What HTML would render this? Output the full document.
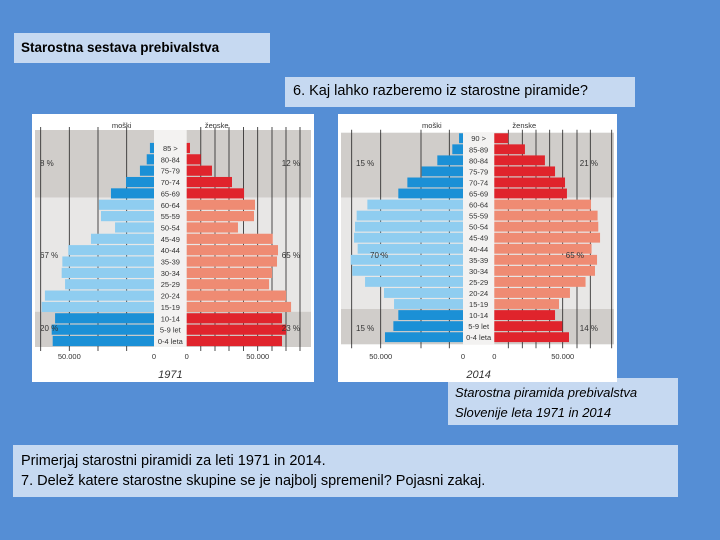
<!DOCTYPE html>
<html><head><meta charset="utf-8"><style>
body{margin:0;width:720px;height:540px;background:#558ed5;position:relative;overflow:hidden;font-family:"Liberation Sans",sans-serif}
.box{position:absolute;background:#c6d9f1;color:#000;font-size:14px;box-sizing:border-box}
svg{position:absolute;left:0;top:0}
</style></head><body>
<div class="box" style="left:14px;top:33px;width:256px;height:30px;padding:7px 7px;font-weight:bold;font-size:13.5px">Starostna sestava prebivalstva</div>
<div class="box" style="left:285px;top:77px;width:350px;height:30px;padding:6px 8px;font-size:14.5px">6. Kaj lahko razberemo iz starostne piramide?</div>
<div class="box" style="left:448px;top:378px;width:230px;height:47px;padding:5px 7px;font-style:italic;font-size:13px;line-height:20px">Starostna piramida prebivalstva<br>Slovenije leta 1971 in 2014</div>
<div class="box" style="left:13px;top:445px;width:665px;height:52px;padding:6px 8px;font-size:14.5px;line-height:20px">Primerjaj starostni piramidi za leti 1971 in 2014.<br>7. Delež katere starostne skupine se je najbolj spremenil? Pojasni zakaj.</div>
<svg id="chart" width="720" height="540"></svg>
<script>
const ages1971=["85 >","80-84","75-79","70-74","65-69","60-64","55-59","50-54","45-49","40-44","35-39","30-34","25-29","20-24","15-19","10-14","5-9 let","0-4 leta"];
const men1971=[2.4,4.3,8.3,16.5,25.4,32.5,31.3,23,37.2,50.6,54.1,54.5,52.5,64.4,66.3,58.4,60.4,59.8];
const women1971=[2.3,9.9,17.8,31.9,40.4,48.1,47.4,36.1,60.6,64.3,63.6,60.1,58,70,73.5,67.1,70,67.1];
const ages2014=["90 >","85-89","80-84","75-79","70-74","65-69","60-64","55-59","50-54","45-49","40-44","35-39","30-34","25-29","20-24","15-19","10-14","5-9 let","0-4 leta"];
const men2014=[2.4,6.5,15.6,25.1,33.8,39.3,58.1,64.6,65.6,66.2,64,68.2,67.3,59.5,48,41.9,39.3,42.3,47.4];
const women2014=[10.2,22.4,37,44.4,51.7,53.1,70.7,75.5,76,77.3,71.1,75.1,73.6,66.7,55.3,47.3,44.4,49.7,54.6];
const pct1971=["8 %","12 %","67 %","65 %","20 %","23 %"];
const pct2014=["15 %","21 %","70 %","65 %","15 %","14 %"];
const svg=document.getElementById('chart');const NS='http://www.w3.org/2000/svg';
function mk(t,a,p){const e=document.createElementNS(NS,t);for(const k in a)e.setAttribute(k,a[k]);(p||svg).appendChild(e);return e;}
function draw(c){
 const g=mk('g',{});
 
 
 mk('rect',{x:c.px,y:114,width:c.pw,height:268,fill:'#fff'},g);
 const n=c.ages.length;const rh=(c.y1-c.y0)/n;
 const yRow=i=>c.y0+i*rh;
 const bands=[[c.top,c.b1,'#d0cdca'],[c.b1,c.b2,'#e8e7e6'],[c.b2,c.bot,'#d0cdca']];
 bands.forEach(b=>mk('rect',{x:c.px+3,y:b[0],width:c.pw-6,height:b[1]-b[0],fill:b[2]},g));
 mk('rect',{x:c.lz,y:c.top,width:c.rz-c.lz,height:c.bot-c.top,fill:'#f3f2f1'},g);
 c.lgrid.concat(c.rgrid).forEach(x=>mk('line',{x1:x,x2:x,y1:c.top-3,y2:c.bot+4,stroke:'#222','stroke-width':0.8},g));
 const xl=v=>c.lz-v*c.ls, xr=v=>c.rz+v*c.rs;
 const dark=i=>i<c.oldN||i>=n-3;
 c.men.forEach((v,i)=>{const r=mk('rect',{x:xl(v),y:yRow(i)+0.6,width:c.lz-xl(v),height:rh-1.2,fill:dark(i)?'#1b90d6':'#8fcdf0'},g);
  });
 c.women.forEach((v,i)=>{const r=mk('rect',{x:c.rz,y:yRow(i)+0.6,width:xr(v)-c.rz,height:rh-1.2,fill:dark(i)?'#e0242c':'#ef8b73'},g);
  });
 c.ages.forEach((a,i)=>{const t=mk('text',{x:(c.lz+c.rz)/2,y:yRow(i)+rh/2+3,'font-size':7.5,'text-anchor':'middle',fill:'#333'},g);t.textContent=a;});
 const tx=(x,y,s,anc,fs,st)=>{const t=mk('text',{x:x,y:y,'font-size':fs||7.5,'text-anchor':anc||'middle',fill:'#333'},g);if(st)t.setAttribute('font-style',st);t.textContent=s;return t;};
 tx((c.lgrid[1]+c.lz)/2+10,128,'moški');tx(c.rz+30,128,'ženske');
 tx(xl(50),359,'50.000');tx(c.lz,359,'0');tx(c.rz,359,'0');tx(xr(50),359,'50.000');
 tx((c.lz+c.rz)/2,378,c.year,'middle',11,'italic');
 const p=c.pct;
 tx(c.pl,166,p[0],'start',8);tx(c.pr,166,p[1],'end',8);
 tx(c.pl+c.pm,258,p[2],'start',8);tx(c.pr-c.pm,258,p[3],'end',8);
 tx(c.pl,331,p[4],'start',8);tx(c.pr,331,p[5],'end',8);
}
draw({name:'pyramid-1971',px:32,pw:282,ages:ages1971,men:men1971,women:women1971,y0:142.3,y1:346.7,top:130,b1:197.7,b2:311.7,bot:347,lz:154,rz:186.7,ls:84.7/50,rs:71/50,oldN:5,lgrid:[40.7,69.3,98,126.7],rgrid:[200.8,215,229,243.5,257.7,272,286,300],year:'1971',pct:pct1971,pl:40,pr:300,pm:0});
draw({name:'pyramid-2014',px:338,pw:279,ages:ages2014,men:men2014,women:women2014,y0:132.7,y1:342.7,top:132.7,b1:197.7,b2:309,bot:344.3,lz:463,rz:494.3,ls:82.3/50,rs:68.4/50,oldN:6,lgrid:[351.7,380.7,421,449.3],rgrid:[508.3,522.3,536,549.7,562.7,577,590.3,611.7],year:'2014',pct:pct2014,pl:356,pr:598,pm:14});
</script>
</body></html>
